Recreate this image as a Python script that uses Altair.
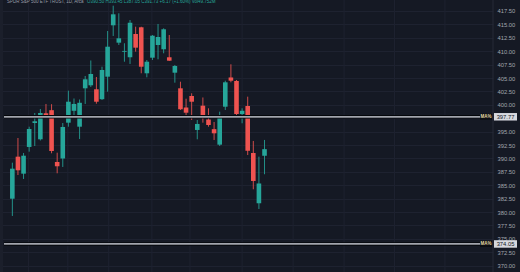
import altair as alt
import pandas as pd

# OHLC candles (daily)
opens = [382.49, 390.33, 387.16, 392.14, 396.61, 393.57, 398.42, 399.00, 389.34, 389.99,
         396.67, 398.89, 395.92, 403.08, 403.64, 402.90, 401.05, 405.25, 414.83, 411.59,
         409.90, 408.87, 413.21, 414.46, 405.88, 408.79, 411.16, 410.36, 408.87, 405.99,
         403.08, 399.50, 401.65, 395.31, 399.84, 397.26, 395.46, 392.57, 399.65, 405.10,
         404.45, 398.29, 399.78, 391.02, 381.64, 390.50]
highs = [389.21, 393.81, 391.02, 395.92, 398.48, 399.22, 400.16, 400.12, 391.07, 396.61,
         402.64, 401.18, 400.99, 405.38, 408.27, 405.19, 407.11, 413.77, 418.49, 417.07,
         411.48, 415.82, 414.57, 414.57, 408.36, 413.02, 415.08, 414.27, 413.02, 407.43,
         404.31, 401.14, 402.15, 397.17, 401.37, 399.35, 396.80, 398.72, 404.50, 407.56,
         404.63, 399.35, 401.52, 393.26, 390.33, 393.45]
lows = [379.27, 386.91, 386.17, 391.26, 392.32, 393.35, 397.54, 390.96, 387.23, 388.41,
        395.92, 397.73, 393.63, 400.16, 403.33, 400.21, 400.90, 402.45, 412.84, 411.16,
        408.04, 407.62, 409.91, 405.88, 405.13, 408.36, 408.49, 409.61, 408.18, 404.13,
        399.04, 397.79, 397.17, 393.57, 396.67, 395.92, 393.44, 392.32, 399.04, 404.20,
        398.10, 396.56, 390.64, 384.25, 380.57, 387.05]
closes = [388.09, 387.79, 390.51, 395.49, 396.93, 398.48, 397.82, 391.39, 388.54, 395.87,
          400.58, 400.16, 400.38, 404.76, 405.75, 400.58, 406.50, 410.84, 416.88, 412.41,
          410.05, 415.32, 410.66, 407.11, 408.04, 412.89, 412.65, 414.09, 408.23, 407.24,
          399.17, 398.53, 400.58, 396.43, 397.73, 396.24, 394.69, 397.79, 404.20, 404.50,
          398.29, 398.89, 391.43, 385.80, 385.33, 391.73]

# horizontal price levels
levels = [397.77, 374.05]
level_labels = ["397.77", "374.05"]
level_tags = ["MA%", "MA%"]

# y tick labels
y_ticks = [370.0, 372.5, 375.0, 377.5, 380.0, 382.5, 385.0, 387.5, 390.0, 392.5, 395.0,
           397.5, 400.0, 402.5, 405.0, 407.5, 410.0, 412.5, 415.0, 417.5, 420.0]

# time grid positions (in bar-index units)
time_grid = [2.9, 9.9, 17.2, 24.9, 31.7, 41.0, 50.1, 59.2, 68.2, 77.2]

header_name = "SPDR S&P 500 ETF TRUST, 1D, Arca"
header_vals = "O390.50 H393.45 L387.05 C391.73 +6.17 (+1.60%) Vol49.752M"

GREEN = "#26a69a"
RED = "#ef5350"
BG = "#151924"
GRID = "#1e2230"

df = pd.DataFrame({
    "i": list(range(len(opens))),
    "open": opens, "high": highs, "low": lows, "close": closes,
})
df["dir"] = ["up" if c >= o else "down" for o, c in zip(opens, closes)]

lv = pd.DataFrame({"level": levels, "label": level_labels, "tag": level_tags})
tg = pd.DataFrame({"t": time_grid})

xscale = alt.Scale(domain=[-1.311, 84.88], nice=False, zero=False)
yscale = alt.Scale(domain=[368.82, 419.55], nice=False, zero=False)
yaxis = alt.Axis(
    orient="right", values=y_ticks, format=".2f", title=None,
    grid=True, gridColor=GRID, gridWidth=1, ticks=False, domain=False,
    labelColor="#a3a6af", labelFontSize=5.8, labelFont="Liberation Sans",
    labelPadding=4, labelAlign="left", labelBaseline="middle",
    labelOverlap=False, labelFlush=False, labelBound=False,
    labelExpr="datum.value == 397.5 ? '' : datum.label",
)
color = alt.Color("dir:N", scale=alt.Scale(domain=["up", "down"], range=[GREEN, RED]), legend=None)


def Y(field):
    return alt.Y(field, scale=yscale, axis=yaxis)


base = alt.Chart(df)

vgrid = alt.Chart(tg).mark_rule(color=GRID, strokeWidth=1).encode(
    x=alt.X("t:Q", scale=xscale, axis=None),
    y=alt.value(0), y2=alt.value(272),
)

wicks = base.mark_rule(strokeWidth=1, opacity=0.85).encode(
    x=alt.X("i:Q", scale=xscale, axis=None),
    y=Y("low:Q"),
    y2="high:Q",
    color=color,
)

bodies = base.mark_bar(size=4.6).encode(
    x=alt.X("i:Q", scale=xscale, axis=None),
    y=Y("open:Q"),
    y2="close:Q",
    color=color,
)

sep = alt.Chart(df.head(1)).mark_rule(color="#262a36", strokeWidth=1).encode(
    x=alt.value(493), y=alt.value(0), y2=alt.value(272)
)
leftstrip = alt.Chart(df.head(1)).mark_rule(color="#1b1f2b", strokeWidth=3).encode(
    x=alt.value(1.5), y=alt.value(0), y2=alt.value(272)
)

lvl_dark = alt.Chart(lv).mark_rule(color="#05070b", strokeWidth=3.4).encode(
    y=Y("level:Q"), x=alt.value(4), x2=alt.value(480)
)
lvl_light = alt.Chart(lv).mark_rule(color="#a2a5ad", strokeWidth=1.8).encode(
    y=Y("level:Q"), x=alt.value(4), x2=alt.value(480)
)
tag_bg = alt.Chart(lv).mark_rule(color="#0b0d12", strokeWidth=6).encode(
    y=Y("level:Q"), x=alt.value(480), x2=alt.value(492)
)
tag_txt = alt.Chart(lv).mark_text(color="#e6dca4", fontSize=4.5, font="Liberation Sans",
                                  fontWeight="bold", align="center", baseline="middle").encode(
    y=Y("level:Q"), x=alt.value(486), text="tag:N"
)
box = alt.Chart(lv).mark_rule(color="#d6d8de", strokeWidth=7.5).encode(
    y=Y("level:Q"), x=alt.value(494), x2=alt.value(517)
)
box_txt = alt.Chart(lv).mark_text(color="#131722", fontSize=5.8, font="Liberation Sans",
                                  align="center", baseline="middle").encode(
    y=Y("level:Q"), x=alt.value(505.5), text="label:N"
)

hdr = pd.DataFrame({"name": [header_name], "vals": [header_vals]})
hdr_name = alt.Chart(hdr).mark_text(color="#9a9ea8", fontSize=4.5, font="Liberation Sans",
                                    align="left", baseline="middle").encode(
    x=alt.value(7), y=alt.value(2), text="name:N"
)
hdr_vals = alt.Chart(hdr).mark_text(color=GREEN, fontSize=4.5, font="Liberation Sans",
                                    align="left", baseline="middle").encode(
    x=alt.value(87), y=alt.value(2), text="vals:N"
)

chart = alt.layer(
    vgrid, leftstrip, sep, wicks, bodies,
    lvl_dark, lvl_light, tag_bg, tag_txt, box, box_txt, hdr_name, hdr_vals,
).properties(
    width=493, height=272,
    autosize=alt.AutoSizeParams(type="none"),
    padding={"left": 0, "top": 0, "right": 27, "bottom": 0},
    background=BG,
).configure_view(stroke=None)

chart.save("out.html", embed_options={"renderer": "svg", "actions": False})
